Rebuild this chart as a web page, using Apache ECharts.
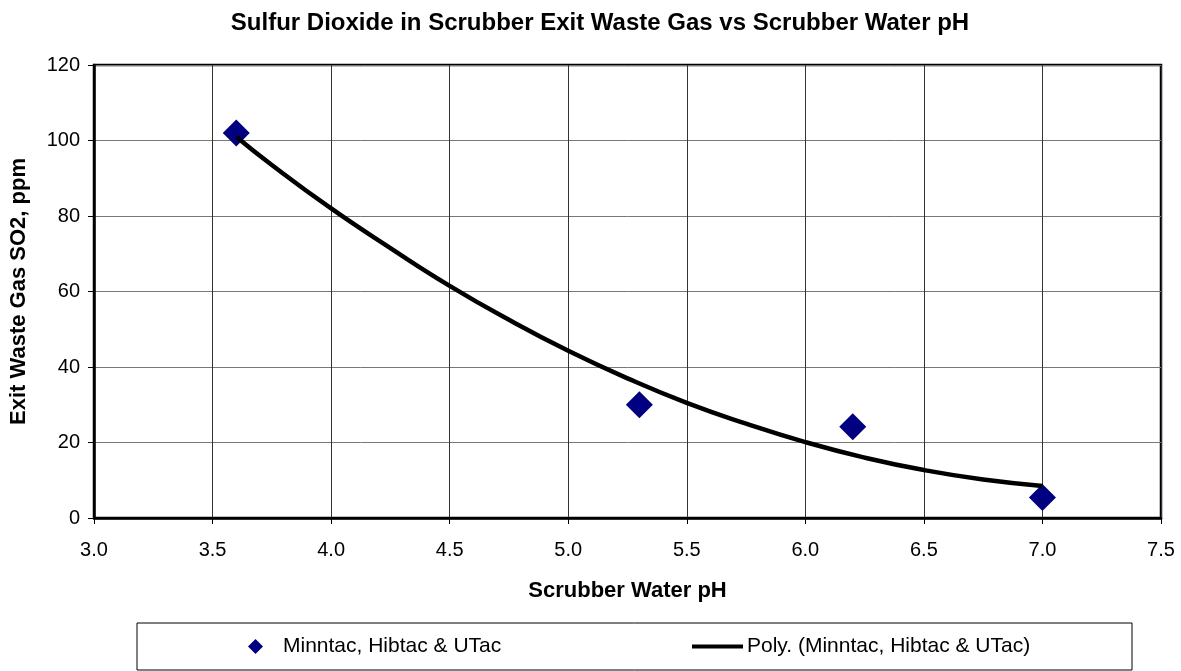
<!DOCTYPE html>
<html>
<head>
<meta charset="utf-8">
<script src="https://cdn.jsdelivr.net/npm/echarts@6/dist/echarts.min.js"></script>
<style>
  html, body { margin: 0; padding: 0; background: #fff; }
  #chart { width: 1181px; height: 671px; }
</style>
</head>
<body>
<div id="chart"></div>
<script>
// measured points (pH, SO2 ppm)
const phValues = [3.6, 5.3, 6.2, 7.0];
const so2Values = [102, 30, 24.2, 5.4];

// polynomial trendline
const trendPh = [3.6, 3.75, 4.0, 4.25, 4.5, 4.75, 5.0, 5.25, 5.5, 5.75, 6.0, 6.25, 6.5, 6.75, 7.0];
const trendSo2 = [101, 93.5, 82, 71.5, 61.5, 52.5, 44.3, 37, 30.5, 25, 20.1, 16, 12.7, 10.2, 8.5];

const xTicks = [3.0, 3.5, 4.0, 4.5, 5.0, 5.5, 6.0, 6.5, 7.0, 7.5];
const yTicks = [0, 20, 40, 60, 80, 100, 120];

const pointName = 'Minntac, Hibtac & UTac';
const trendName = 'Poly. (Minntac, Hibtac & UTac)';

const font = 'Liberation Sans, Arial, sans-serif';

const chart = echarts.init(document.getElementById('chart'));
chart.setOption({
  animation: false,
  title: {
    text: 'Sulfur Dioxide in Scrubber Exit Waste Gas vs Scrubber Water pH',
    left: 595,
    textAlign: 'center',
    top: 6,
    textStyle: { fontFamily: font, fontSize: 24, fontWeight: 'bold', color: '#000' }
  },
  grid: {
    left: 93, top: 65, right: 20, bottom: 153,
    show: true, borderColor: '#000', borderWidth: 2.5, backgroundColor: '#fff'
  },
  legend: [
    {
      data: [{ name: pointName, icon: 'diamond' }],
      left: 243, top: 631,
      itemWidth: 15, itemHeight: 15,
      textStyle: { fontFamily: font, fontSize: 21, color: '#000', padding: [0, 0, 0, 15] }
    },
    {
      data: [{ name: trendName, icon: 'rect' }],
      left: 687, top: 631,
      itemWidth: 51, itemHeight: 4,
      textStyle: { fontFamily: font, fontSize: 21, color: '#000', padding: [0, 0, 0, -1] }
    }
  ],
  graphic: [{
    type: 'rect',
    shape: { x: 137, y: 623, width: 995, height: 47 },
    style: { fill: 'none', stroke: '#000', lineWidth: 1 },
    z: -1
  }],
  xAxis: {
    type: 'value',
    min: xTicks[0], max: xTicks[xTicks.length - 1], interval: 0.5,
    name: 'Scrubber Water pH',
    nameLocation: 'middle', nameGap: 62,
    nameTextStyle: { fontFamily: font, fontSize: 22, fontWeight: 'bold', color: '#000' },
    axisLine: { show: true, lineStyle: { color: '#000', width: 2.5 } },
    axisTick: { show: true, length: 6, lineStyle: { color: '#000', width: 1 } },
    axisLabel: {
      fontFamily: font, fontSize: 20, color: '#000', margin: 22,
      formatter: v => v.toFixed(1)
    },
    splitLine: { show: true, lineStyle: { color: '#333', width: 1 } }
  },
  yAxis: {
    type: 'value',
    min: yTicks[0], max: yTicks[yTicks.length - 1], interval: 20,
    name: 'Exit Waste Gas SO2, ppm',
    nameLocation: 'middle', nameGap: 64,
    nameTextStyle: { fontFamily: font, fontSize: 22, fontWeight: 'bold', color: '#000' },
    axisLine: { show: true, lineStyle: { color: '#000', width: 2.5 } },
    axisTick: { show: true, length: 6, lineStyle: { color: '#000', width: 1 } },
    axisLabel: { fontFamily: font, fontSize: 20, color: '#000', margin: 14 },
    splitLine: { show: true, lineStyle: { color: '#777', width: 1 } }
  },
  series: [
    {
      name: pointName,
      type: 'scatter',
      symbol: 'diamond',
      symbolSize: 27,
      itemStyle: { color: '#000080', opacity: 1 },
      data: phValues.map((x, i) => [x, so2Values[i]]),
      z: 2
    },
    {
      name: trendName,
      type: 'line',
      smooth: true,
      showSymbol: false,
      symbol: 'none',
      lineStyle: { color: '#000', width: 4.5 },
      itemStyle: { color: '#000' },
      data: trendPh.map((x, i) => [x, trendSo2[i]]),
      z: 3
    }
  ]
});
</script>
</body>
</html>
